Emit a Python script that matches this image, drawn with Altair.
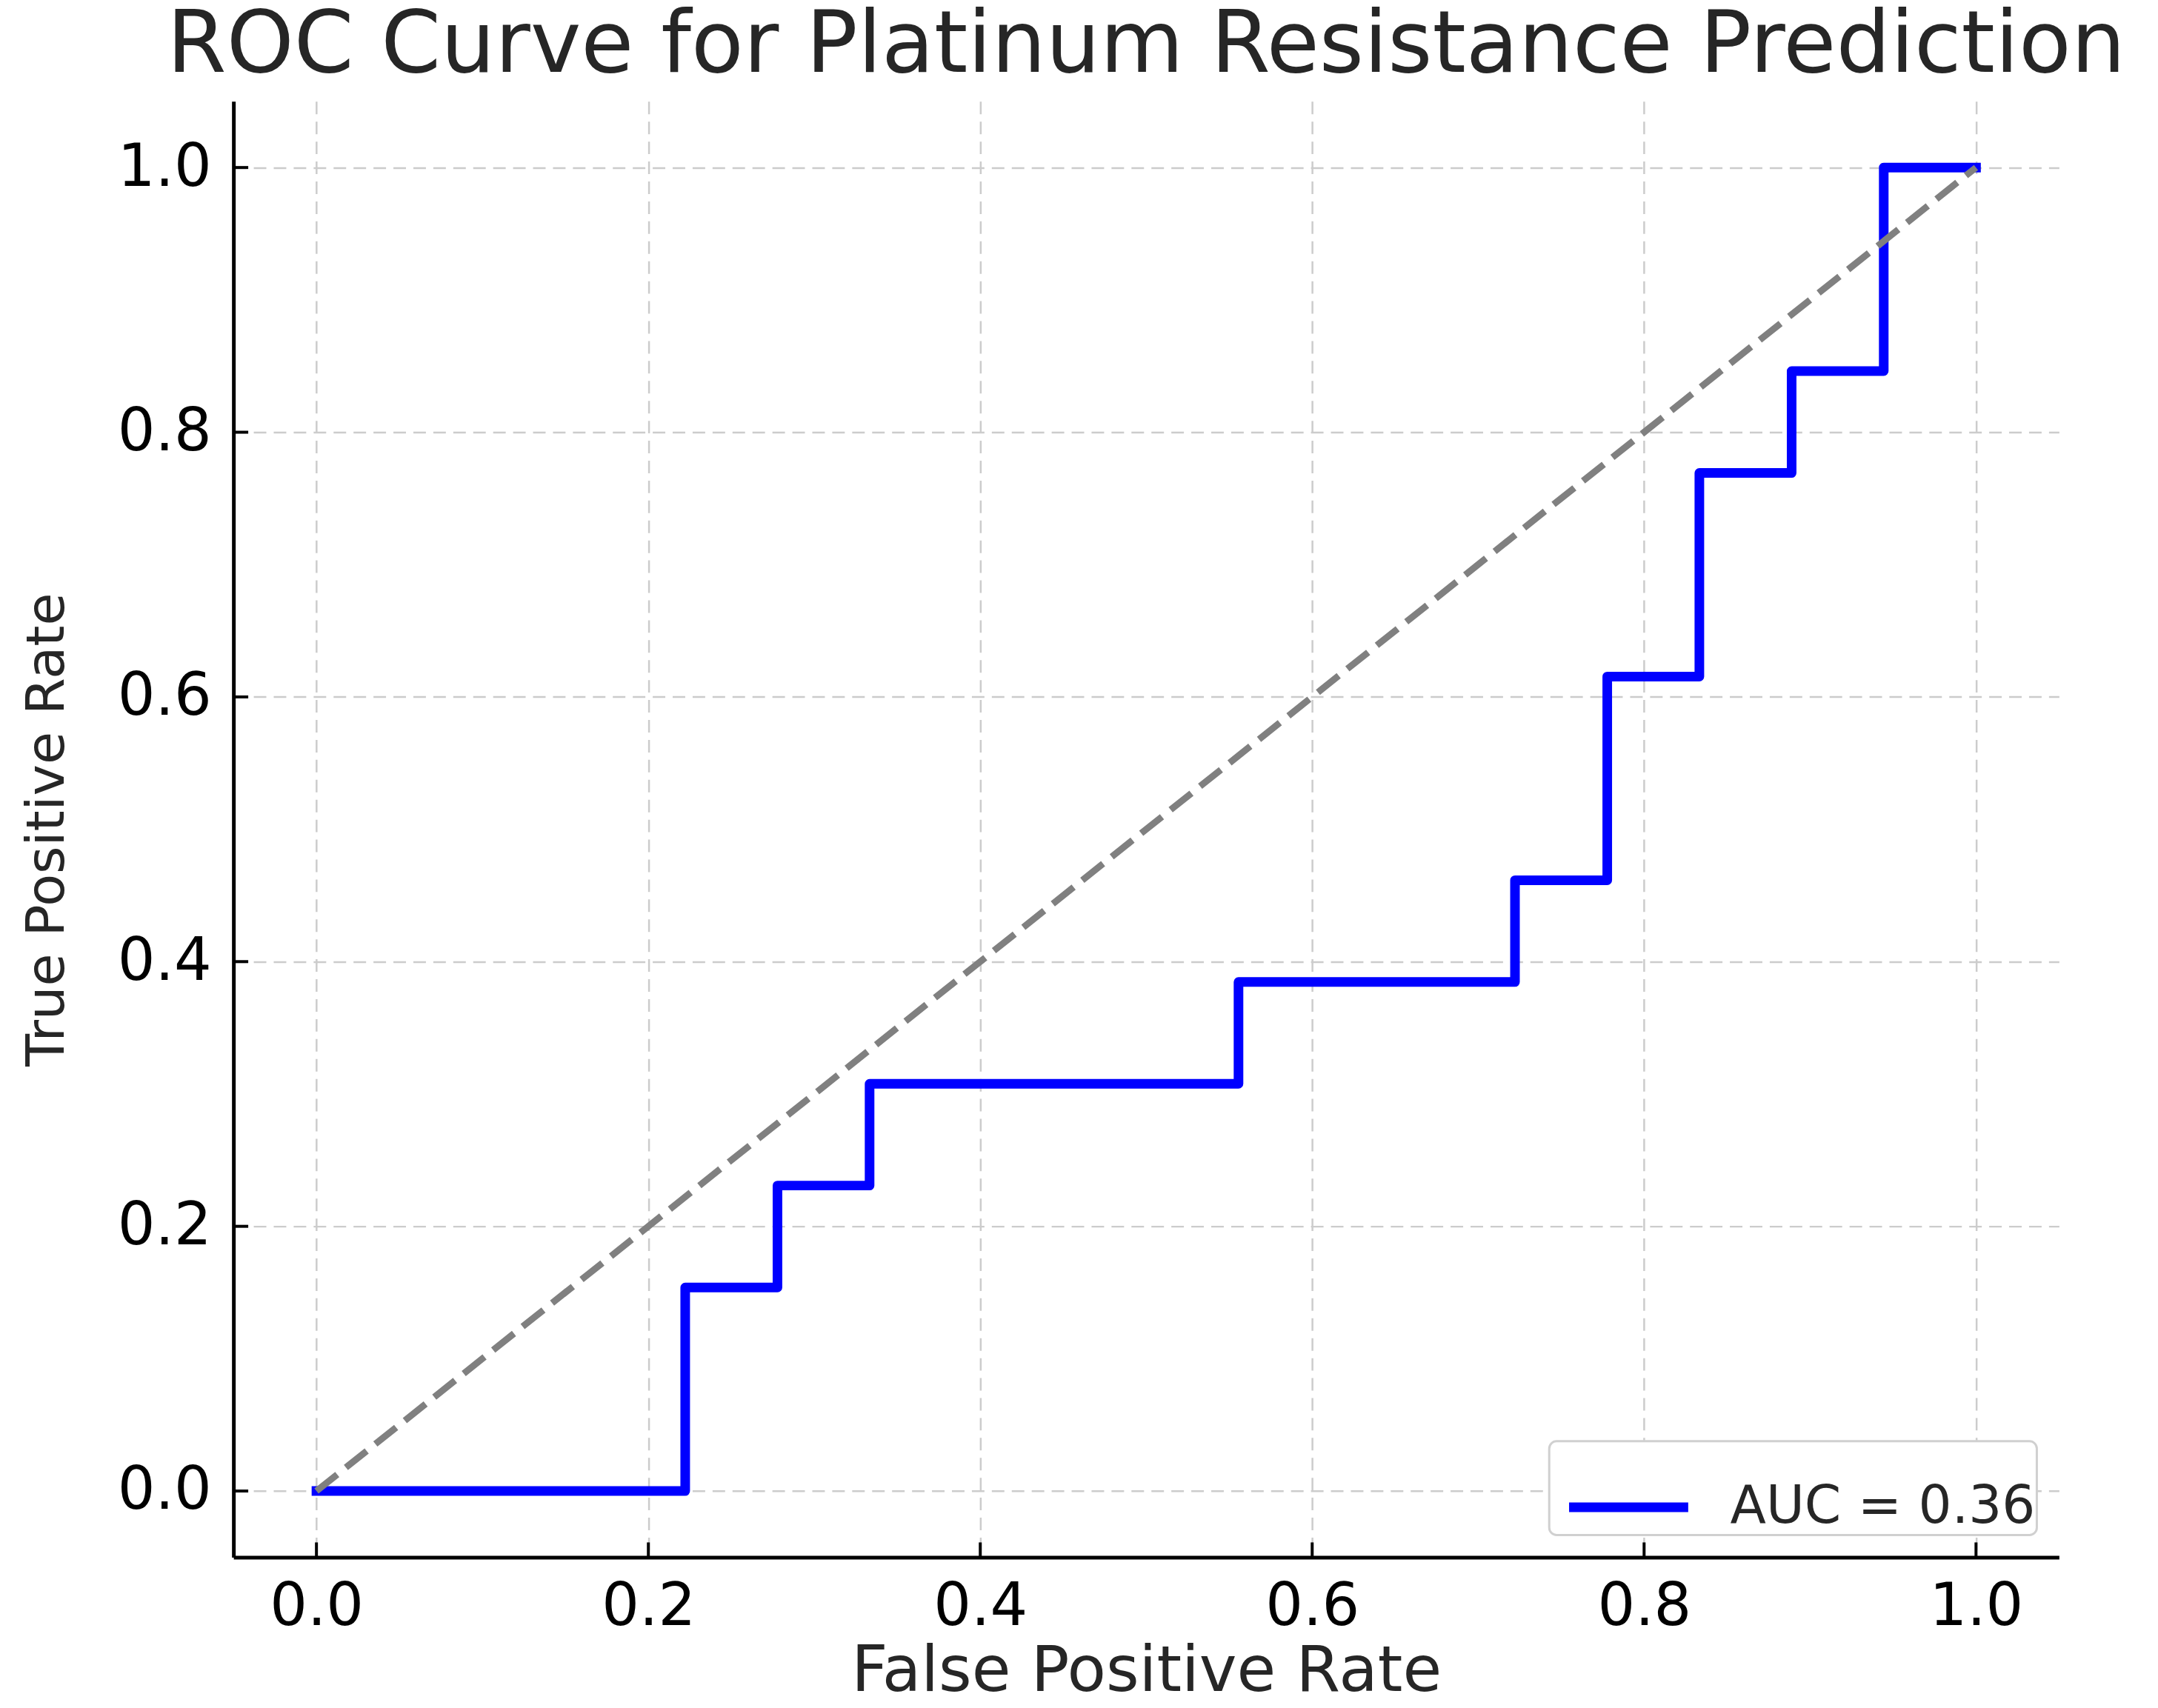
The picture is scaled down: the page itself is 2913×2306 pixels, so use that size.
import altair as alt
import pandas as pd

# ROC curve points
fpr = [0.0, 0.2222, 0.2222, 0.2778, 0.2778, 0.3333, 0.3333, 0.5556, 0.5556,
       0.7222, 0.7222, 0.7778, 0.7778, 0.8333, 0.8333, 0.8889, 0.8889,
       0.9444, 0.9444, 1.0]
tpr = [0.0, 0.0, 0.1538, 0.1538, 0.2308, 0.2308, 0.3077, 0.3077, 0.3846,
       0.3846, 0.4615, 0.4615, 0.6154, 0.6154, 0.7692, 0.7692, 0.8462,
       0.8462, 1.0, 1.0]
auc_label = "AUC = 0.36"
diag_x = [0.0, 1.0]
diag_y = [0.0, 1.0]
tick_values = [0.0, 0.2, 0.4, 0.6, 0.8, 1.0]

W, H = 2471, 1971
FONT = "DejaVu Sans"

roc_df = pd.DataFrame({"fpr": fpr, "tpr": tpr, "order": list(range(len(fpr))),
                       "label": [auc_label] * len(fpr)})
diag_df = pd.DataFrame({"fpr": diag_x, "tpr": diag_y})
ticks_df = pd.DataFrame({"fpr": tick_values, "tpr": tick_values})

xscale = alt.Scale(domain=[-0.05, 1.05], nice=False, zero=False)
yscale = alt.Scale(domain=[-0.05, 1.05], nice=False, zero=False)

grid_kw = dict(grid=True, gridColor="#cccccc", gridDash=[17, 10], gridWidth=2.5)

xaxis = alt.Axis(title="False Positive Rate", values=tick_values, format=".1f",
                 ticks=False, tickSize=0, labelPadding=28, titlePadding=6,
                 labelFontSize=80, titleFontSize=86, labelFont=FONT, titleFont=FONT,
                 labelColor="black", titleColor="#262626", titleFontWeight="normal",
                 domainColor="black", domainWidth=5, **grid_kw)
yaxis = alt.Axis(title="True Positive Rate", values=tick_values, format=".1f",
                 ticks=False, tickSize=0, labelPadding=30, titlePadding=58,
                 labelFontSize=80, titleFontSize=72, labelFont=FONT, titleFont=FONT,
                 labelColor="black", titleColor="#262626", titleFontWeight="normal",
                 domainColor="black", domainWidth=5, **grid_kw)

X = lambda: alt.X("fpr:Q", scale=xscale, axis=xaxis)
Y = lambda: alt.Y("tpr:Q", scale=yscale, axis=yaxis)

roc = alt.Chart(roc_df).mark_line(strokeWidth=13, strokeCap="square", strokeJoin="round").encode(
    x=X(), y=Y(),
    order="order:Q",
    color=alt.Color("label:N",
                    scale=alt.Scale(domain=[auc_label], range=["#0000ff"]),
                    legend=alt.Legend(title=None, orient="bottom-right", offset=30,
                                      symbolType="stroke", symbolStrokeWidth=13,
                                      symbolSize=26000, labelFontSize=71,
                                      labelFont=FONT, labelColor="#262626",
                                      labelLimit=0, labelOffset=50, padding=2,
                                      symbolOffset=18,
                                      strokeColor="#d0d0d0",
                                      fillColor="white", cornerRadius=10)),
)

diag = alt.Chart(diag_df).mark_line(color="#808080", strokeWidth=9,
                                    strokeDash=[36, 15]).encode(x=X(), y=Y())

xticks = alt.Chart(ticks_df).mark_rule(color="black", strokeWidth=4).encode(
    x=X(),
    y=alt.value(H),
    y2=alt.value(H - 20),
)
yticks = alt.Chart(ticks_df).mark_rule(color="black", strokeWidth=4).encode(
    y=Y(),
    x=alt.value(0),
    x2=alt.value(20),
)

chart = alt.layer(roc, diag, xticks, yticks).properties(
    width=W, height=H,
    background="white",
    title=alt.TitleParams(text="ROC Curve for Platinum Resistance Prediction",
                          fontSize=116, font=FONT, color="#262626",
                          fontWeight="normal", anchor="middle", offset=16),
    autosize=alt.AutoSizeParams(type="none"),
    padding={"left": 308, "top": 126, "right": 126, "bottom": 201},
).configure_view(stroke=None).configure_legend(strokeWidth=3)

chart.save("out.html", embed_options={"renderer": "svg", "actions": False})
